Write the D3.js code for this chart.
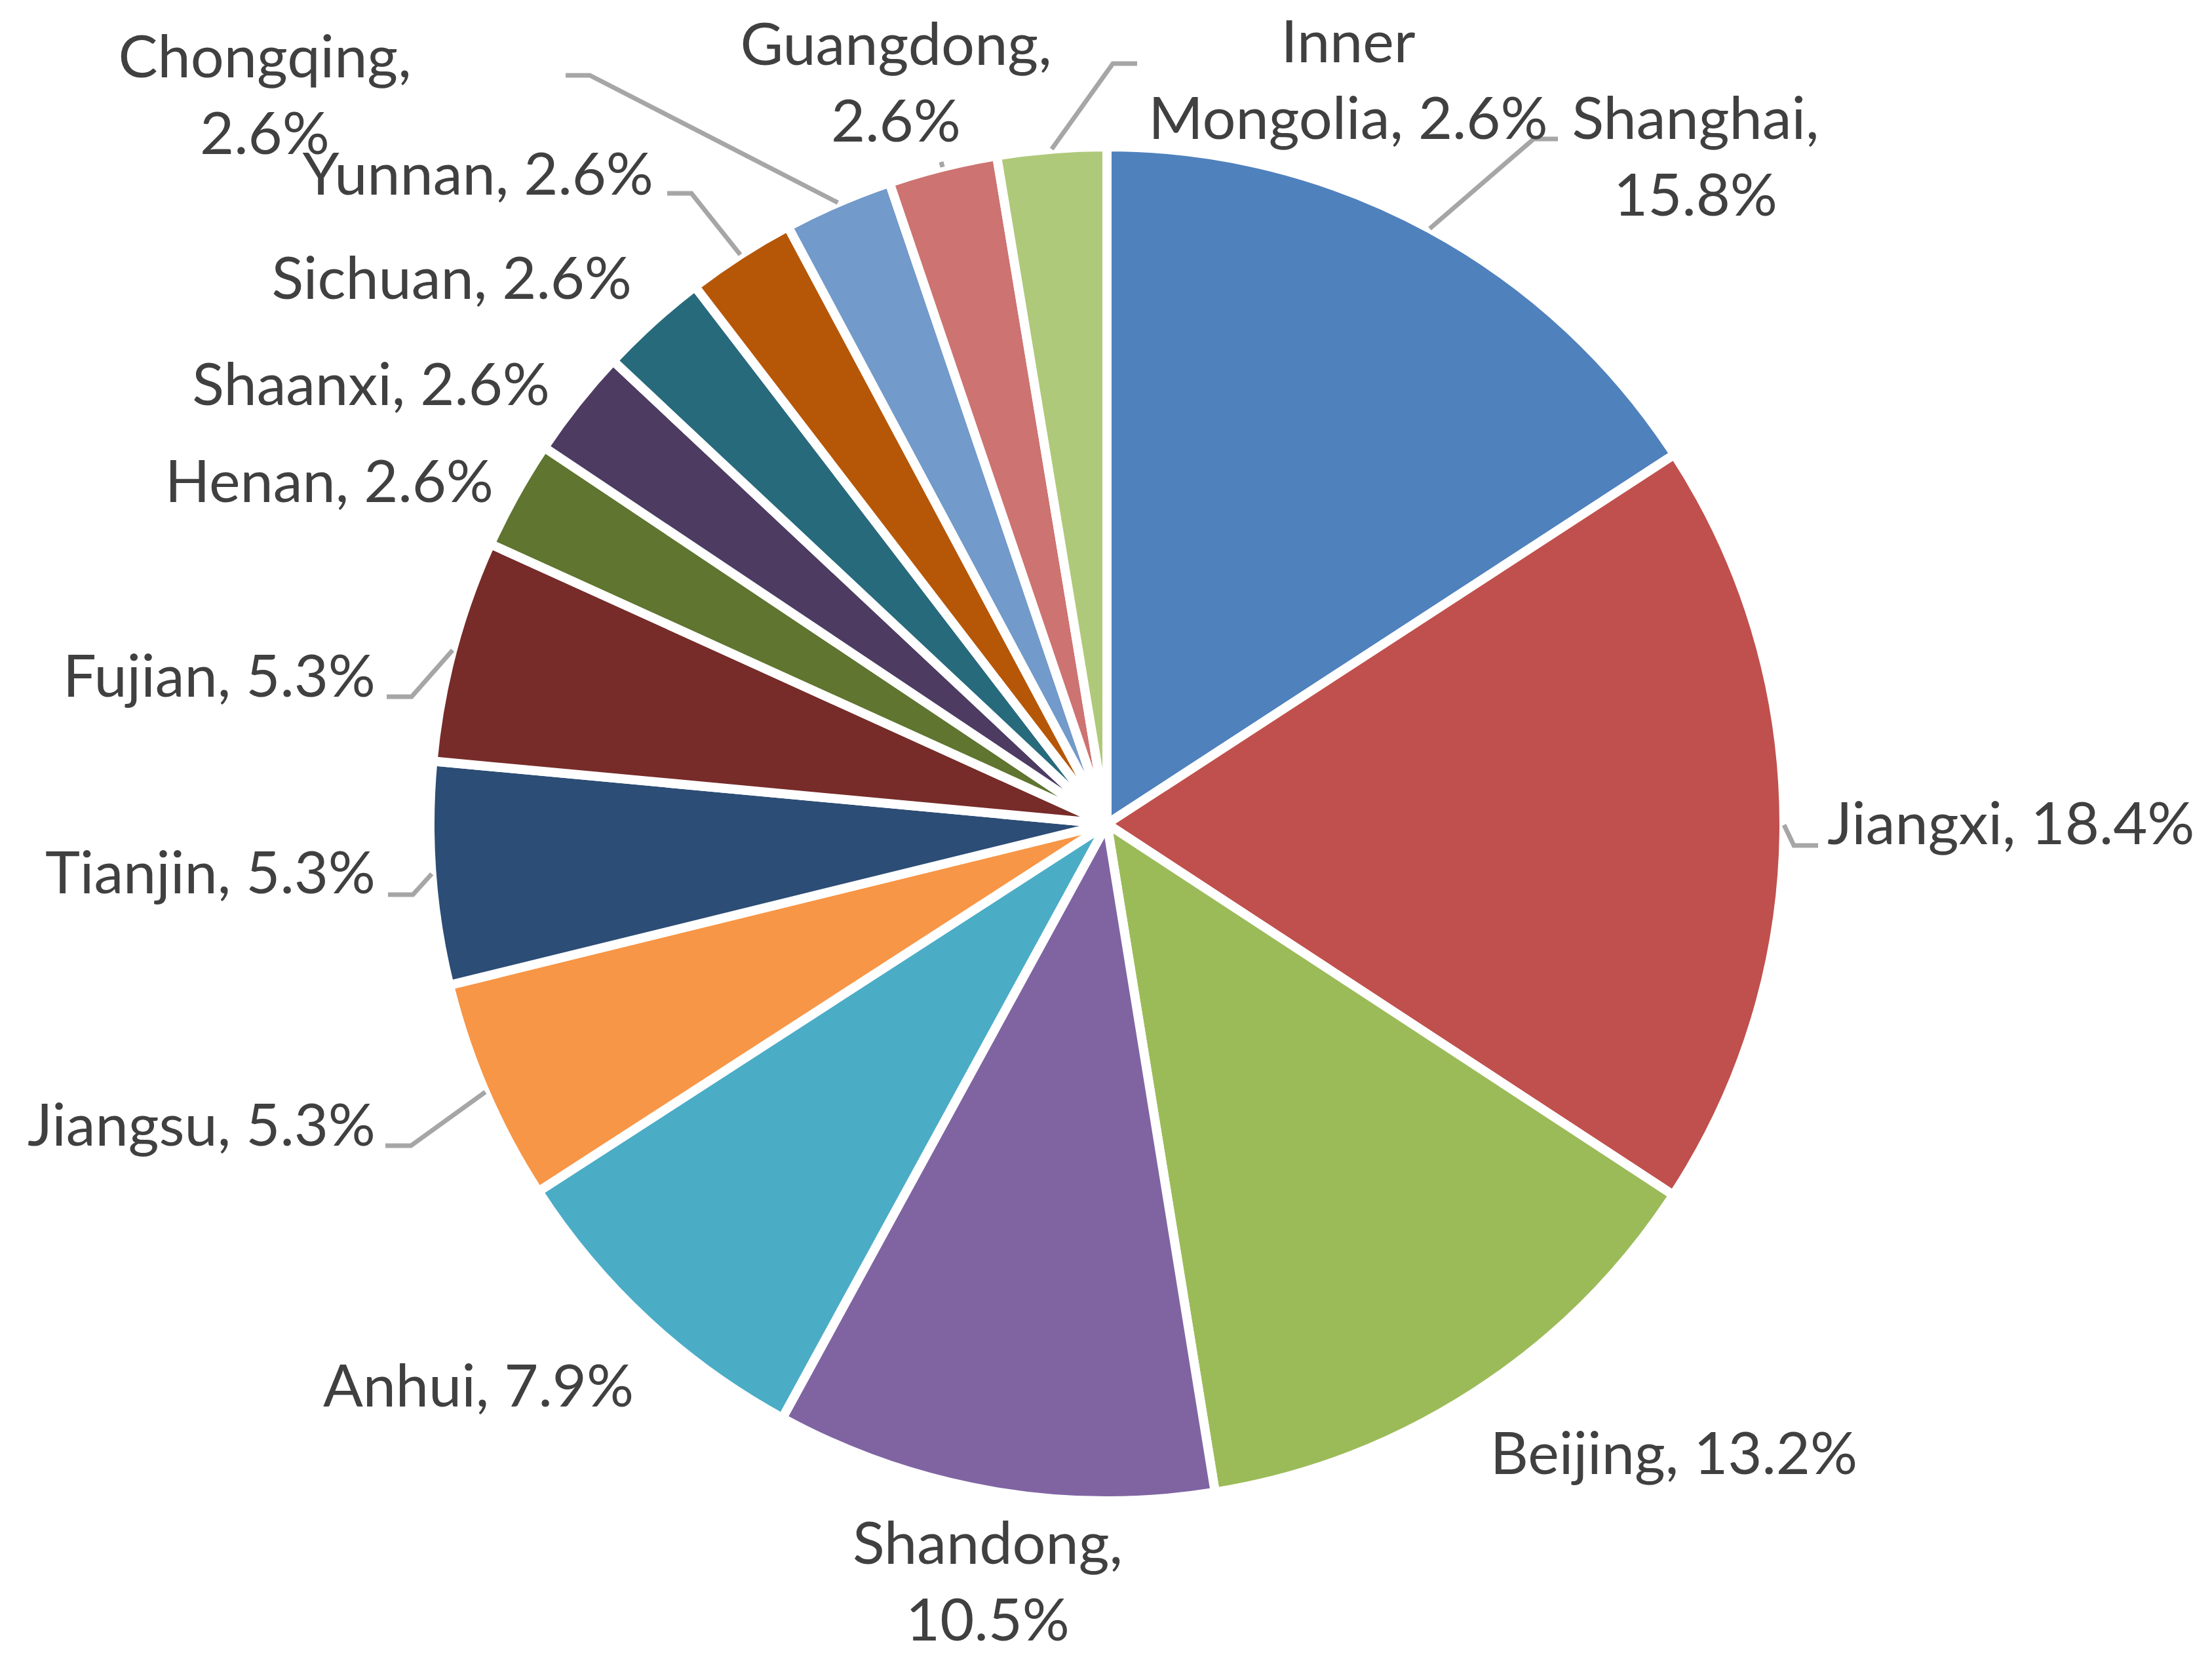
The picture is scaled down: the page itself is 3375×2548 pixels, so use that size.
<!DOCTYPE html>
<html>
<head>
<meta charset="utf-8">
<script src="https://cdn.jsdelivr.net/npm/d3@7"></script>
<style>
  html, body { margin: 0; padding: 0; background: #ffffff; }
  svg { display: block; }
</style>
</head>
<body>
<svg id="chart" width="3375" height="2548"></svg>
<script>
// ---- data ----
const categories = ["Shanghai", "Jiangxi", "Beijing", "Shandong", "Anhui", "Jiangsu", "Tianjin", "Fujian",
  "Henan", "Shaanxi", "Sichuan", "Yunnan", "Chongqing", "Guangdong", "Inner Mongolia"];
const values = [15.8, 18.4, 13.2, 10.5, 7.9, 5.3, 5.3, 5.3, 2.6, 2.6, 2.6, 2.6, 2.6, 2.6, 2.6];
const valueLabels = ["15.8%", "18.4%", "13.2%", "10.5%", "7.9%", "5.3%", "5.3%", "5.3%",
  "2.6%", "2.6%", "2.6%", "2.6%", "2.6%", "2.6%", "2.6%"];

// ---- styles / layout ----
const colors = ["#4F81BD", "#C0504D", "#9BBB59", "#8064A2", "#4BACC6", "#F79646", "#2C4D75", "#772C2A",
  "#5F7530", "#4D3B62", "#276A7C", "#B65708", "#729ACA", "#CD7371", "#AFC97A"];

// label layout: text anchor point, alignment, how many words on first line (0 = single line),
// leader end point (label side) and direction of the short horizontal elbow
const labelLayout = [
  { x: 2587, y: 212, anchor: "middle", split: 1, leader: [2377, 212], elbow: -37 },
  { x: 2788, y: 1288, anchor: "start", split: 0, leader: [2774, 1290], elbow: -37 },
  { x: 2554, y: 2249, anchor: "middle", split: 0, leader: null },
  { x: 1507, y: 2386, anchor: "middle", split: 1, leader: null },
  { x: 730, y: 2146, anchor: "middle", split: 0, leader: null },
  { x: 573, y: 1748, anchor: "end", split: 0, leader: [588, 1748], elbow: 39 },
  { x: 573, y: 1363, anchor: "end", split: 0, leader: [592, 1365], elbow: 38 },
  { x: 573, y: 1063, anchor: "end", split: 0, leader: [590, 1063], elbow: 38 },
  { x: 753, y: 766, anchor: "end", split: 0, leader: null },
  { x: 839, y: 618, anchor: "end", split: 0, leader: null },
  { x: 964, y: 456, anchor: "end", split: 0, leader: null },
  { x: 997, y: 297, anchor: "end", split: 0, leader: [1018, 295], elbow: 37 },
  { x: 404, y: 118, anchor: "middle", split: 1, leader: [863, 115], elbow: 37 },
  { x: 1367, y: 99, anchor: "middle", split: 1, leader: [1436, 247], elbow: 0 },
  { x: 2057, y: 95, anchor: "middle", split: 1, leader: [1735, 97], elbow: -37 }
];

const W = 3375, H = 2548;
const cx = 1689, cy = 1257, R = 1033;
const fontSize = 90, lineH = 117;

const svg = d3.select("#chart");
svg.append("rect").attr("width", W).attr("height", H).attr("fill", "#ffffff");

const data = categories.map((c, i) => ({ name: c, value: values[i], label: valueLabels[i], i }));

const pie = d3.pie().value(d => d.value).sort(null).startAngle(0).endAngle(2 * Math.PI);
const arcs = pie(data);
const arc = d3.arc().innerRadius(0).outerRadius(R);
const edge = d3.arc().innerRadius(R).outerRadius(R);

const g = svg.append("g").attr("transform", `translate(${cx},${cy})`);

g.selectAll("path.slice")
  .data(arcs)
  .join("path")
  .attr("class", "slice")
  .attr("d", arc)
  .attr("fill", (d, i) => colors[i])
  .attr("stroke", "#ffffff")
  .attr("stroke-width", 14)
  .attr("stroke-linejoin", "miter");

// leader lines
const lineGen = d3.line();
arcs.forEach((a, i) => {
  const L = labelLayout[i];
  if (!L.leader) return;
  const s = edge.centroid(a);
  const start = [s[0] + cx, s[1] + cy];
  const end = L.leader;
  const pts = L.elbow ? [start, [end[0] + L.elbow, end[1]], end] : [start, end];
  svg.append("path")
    .attr("d", lineGen(pts))
    .attr("fill", "none")
    .attr("stroke", "#A6A6A6")
    .attr("stroke-width", 7)
    .attr("stroke-linejoin", "miter");
});

// labels
arcs.forEach((a, i) => {
  const L = labelLayout[i];
  const d = a.data;
  const full = d.name + ", " + d.label;
  let lines;
  if (L.split > 0) {
    const words = full.split(" ");
    lines = [words.slice(0, L.split).join(" "), words.slice(L.split).join(" ")];
  } else {
    lines = [full];
  }
  const t = svg.append("text")
    .attr("x", L.x)
    .attr("y", L.y)
    .attr("text-anchor", L.anchor)
    .attr("font-family", "Lato, 'Open Sans', sans-serif")
    .attr("font-size", fontSize)
    .attr("fill", "#404040");
  lines.forEach((ln, k) => {
    t.append("tspan").attr("x", L.x).attr("y", L.y + k * lineH).text(ln);
  });
});
</script>
</body>
</html>
